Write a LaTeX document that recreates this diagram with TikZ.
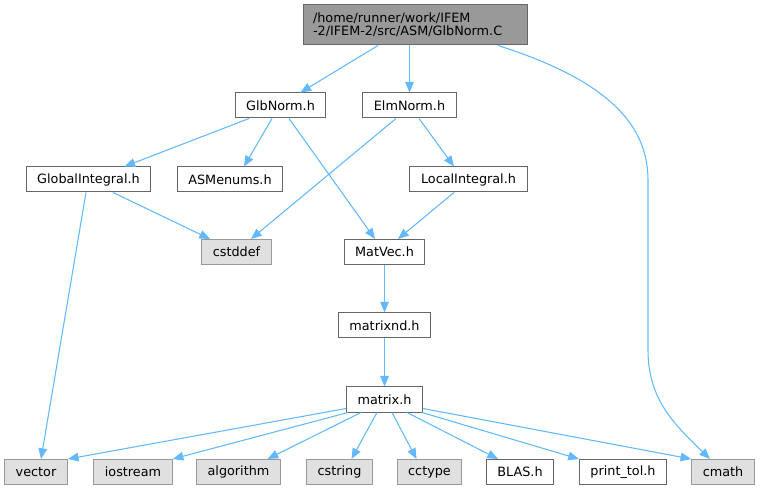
\documentclass[tikz,border=0pt]{standalone}
\usepackage{fontspec}
\setmainfont{DejaVu Sans}
\usetikzlibrary{arrows.meta,calc}
\definecolor{edgeblue}{HTML}{63B8FF}
\definecolor{boxline}{HTML}{666666}
\definecolor{sysline}{HTML}{999999}
\definecolor{sysfill}{HTML}{E0E0E0}
\definecolor{rootfill}{HTML}{999999}
\begin{document}
\begin{tikzpicture}[x=0.75pt,y=-0.75pt,
    filebox/.style={draw=boxline,fill=white,line width=0.75pt,minimum height=18.75pt,inner xsep=8.3pt,inner ysep=0pt,font=\fontsize{9.6pt}{9.75pt}\selectfont},
    sysbox/.style={filebox,draw=sysline,fill=sysfill},
    rootbox/.style={filebox,fill=rootfill,minimum height=30pt,text width=153pt,inner xsep=7.5pt,align=left},
    dep/.style={draw=edgeblue,line width=0.8pt,-{Triangle[length=8pt,width=6.5pt]}}]
\useasboundingbox (0,0) rectangle (760,491);
\node[rootbox] (glbnormc) at (415,25) {/home/runner/work/IFEM\\-2/IFEM-2/src/ASM/GlbNorm.C};
\node[filebox] (glbnormh) at (280.5,105.5) {GlbNorm.h};
\node[filebox] (elmnormh) at (409.5,105.5) {ElmNorm.h};
\node[filebox] (globalintegralh) at (88.5,179.5) {GlobalIntegral.h};
\node[filebox] (asmenumsh) at (230,179.5) {ASMenums.h};
\node[filebox] (localintegralh) at (468.5,179.5) {LocalIntegral.h};
\node[sysbox] (cstddef) at (236.5,252) {cstddef};
\node[filebox] (matvech) at (384.5,252) {MatVec.h};
\node[filebox] (matrixndh) at (384.5,325.5) {matrixnd.h};
\node[filebox] (matrixh) at (384.5,399.5) {matrix.h};
\node[sysbox] (vector) at (36,472) {vector};
\node[sysbox] (iostream) at (133,472) {iostream};
\node[sysbox] (algorithm) at (238.5,472) {algorithm};
\node[sysbox] (cstring) at (339.5,472) {cstring};
\node[sysbox] (cctype) at (429.5,472) {cctype};
\node[filebox] (blash) at (520,472) {BLAS.h};
\node[filebox] (printtolh) at (623,472) {print\_tol.h};
\node[sysbox] (cmath) at (723,472) {cmath};
\coordinate (bendtop) at (648,180);
\coordinate (bendbot) at (648,350);
\draw[dep] ($(glbnormc.south)+(-37,0)$) -- ($(glbnormh.north)+(20,0)$);
\draw[dep] ($(glbnormc.south)+(-5.5,0)$) -- (elmnormh.north);
\draw[dep] ($(glbnormc.south)+(83,0)$) .. controls (600,78) and (648,120) .. (bendtop) -- (bendbot) .. controls (648,400) and (675,425) .. ($(cmath.north)+(-13,0)$);
\draw[dep] ($(glbnormh.south)+(-31.5,0)$) -- ($(globalintegralh.north)+(36,0)$);
\draw[dep] ($(glbnormh.south)+(-8.5,0)$) -- ($(asmenumsh.north)+(14,0)$);
\draw[dep] ($(glbnormh.south)+(8.5,0)$) -- ($(matvech.north)+(-9.5,0)$);
\draw[dep] ($(elmnormh.south)+(-13.5,0)$) -- ($(cstddef.north)+(14.5,0)$);
\draw[dep] ($(elmnormh.south)+(9.5,0)$) -- ($(localintegralh.north)+(-14.5,0)$);
\draw[dep] ($(globalintegralh.south)+(24.5,0)$) -- ($(cstddef.north)+(-26.5,0)$);
\draw[dep] ($(globalintegralh.south)+(-2.5,0)$) -- ($(vector.north)+(5,0)$);
\draw[dep] ($(localintegralh.south)+(-14.5,0)$) -- ($(matvech.north)+(13.5,0)$);
\draw[dep] (matvech) -- (matrixndh);
\draw[dep] (matrixndh) -- (matrixh);
\draw[dep] ($(matrixh.south west)+(0,-4)$) -- (vector.north east);
\draw[dep] ($(matrixh.south west)+(2,0)$) -- (iostream.north east);
\draw[dep] ($(matrixh.south)+(-23.5,0)$) -- ($(algorithm.north)+(29,0)$);
\draw[dep] ($(matrixh.south)+(-7.5,0)$) -- ($(cstring.north)+(12,0)$);
\draw[dep] ($(matrixh.south)+(7.5,0)$) -- ($(cctype.north)+(-13,0)$);
\draw[dep] ($(matrixh.south)+(22.5,0)$) -- ($(blash.north)+(-22,0)$);
\draw[dep] ($(matrixh.south east)+(-1,0)$) -- (printtolh.north west);
\draw[dep] ($(matrixh.south east)+(0,-4)$) -- (cmath.north west);
\end{tikzpicture}
\end{document}
